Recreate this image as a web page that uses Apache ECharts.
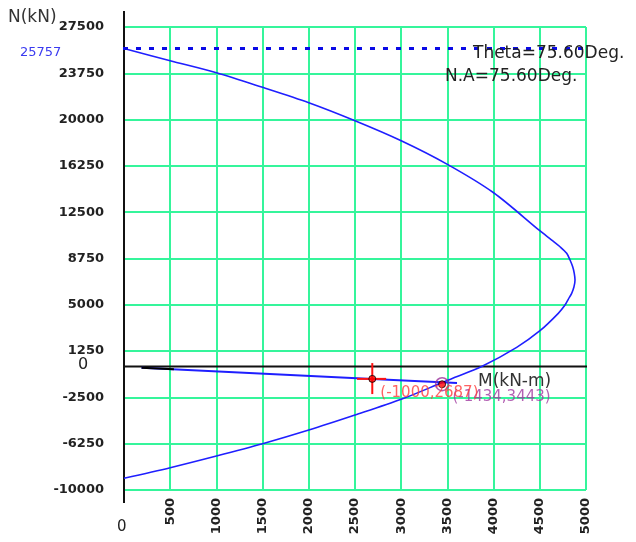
<!DOCTYPE html>
<html>
<head>
<meta charset="utf-8">
<script src="https://cdn.jsdelivr.net/npm/echarts@6/dist/echarts.min.js"></script>
<style>html,body{margin:0;padding:0;background:#fff;}#c{width:636px;height:542px;}</style>
</head>
<body>
<div id="c"></div>
<script>
// Interaction diagram (M, N)
const curveM = [0, 500, 1000, 1500, 2000, 2500, 3000, 3500, 4000, 4500, 4629, 4719, 4791, 4827, 4856, 4873, 4881, 4870, 4845, 4808, 4773, 4700, 4502, 4250, 3871, 3564, 3430, 3000, 2500, 2000, 1500, 1000, 500, 0];
const curveN = [25757, 24767, 23795, 22612, 21366, 19908, 18288, 16376, 14076, 10999, 10245, 9703, 9168, 8626, 8083, 7548, 7006, 6463, 5929, 5443, 4981, 4309, 2900, 1555, 0, -920, -1340, -2657, -3928, -5143, -6250, -7249, -8196, -9055];
// load path line
const pathM = [190, 2687, 3604];
const pathN = [-90, -1000, -1334];
const pathStartM = [190, 540];
const pathStartN = [-90, -218];
// points
const redPoint = [2687, -1000];
const redLabel = '(-1000,2687)';
const purplePoint = [3443, -1434];
const purpleLabel = '(-1434,3443)';
const pureCompression = 25757;
const pureCompressionLabel = '25757';
// axes
const xMin = 0, xMax = 5000, xStep = 500;
const yMin = -10000, yMax = 27500, yStep = 3750;
const yAxisTitle = 'N(kN)';
const xAxisTitle = 'M(kN-m)';
const zeroLabel = '0';
const thetaText = 'Theta=75.60Deg.';
const naText = 'N.A=75.60Deg.';

const FONT = 'DejaVu Sans';
const chart = echarts.init(document.getElementById('c'), null, {renderer: 'canvas'});

const zip = (a, b) => a.map((v, i) => [v, b[i]]);
const GREEN = '#35f59b';

const option = {
  animation: false,
  backgroundColor: '#ffffff',
  grid: {left: 124, right: 50, top: 27, bottom: 52, containLabel: false},
  xAxis: {
    type: 'value', min: xMin, max: xMax, interval: xStep,
    axisLine: {show: false}, axisTick: {show: false},
    splitLine: {show: true, showMinLine: true, showMaxLine: true, lineStyle: {color: GREEN, width: 2}},
    axisLabel: {
      rotate: 90, margin: 8, color: '#222', fontFamily: FONT, fontSize: 13, fontWeight: 'bold',
      formatter: v => (v === 0 ? '' : String(v))
    }
  },
  yAxis: {
    type: 'value', min: yMin, max: yMax, interval: yStep,
    axisLine: {show: false}, axisTick: {show: false},
    splitLine: {show: true, showMinLine: true, showMaxLine: true, lineStyle: {color: GREEN, width: 2}},
    axisLabel: {margin: 20, color: '#222', fontFamily: FONT, fontSize: 13, fontWeight: 'bold',
      formatter: v => String(v)}
  },
  series: [
    {
      type: 'line', name: 'axisH', data: [[-184, 0], [5162, 0]], clip: false, silent: true,
      symbol: 'none', lineStyle: {color: '#111', width: 2}, z: 3
    },
    {
      type: 'line', name: 'axisV', data: [[0, 28792], [0, -11055]], clip: false, silent: true,
      symbol: 'none', lineStyle: {color: '#111', width: 2}, z: 3
    },
    {
      type: 'line', name: 'curve', data: zip(curveM, curveN), clip: false, silent: true,
      symbol: 'none', smooth: 0.3, lineStyle: {color: '#1f1fff', width: 1.6}, z: 4
    },
    {
      type: 'line', name: 'pureN', data: [[-433, pureCompression], [5152, pureCompression]], clip: false, silent: true,
      symbol: 'none', lineStyle: {color: '#0a0ae6', width: 3, type: [5, 8]}, z: 5
    },
    {
      type: 'line', name: 'path', data: zip(pathM, pathN), clip: false, silent: true,
      symbol: 'none', lineStyle: {color: '#1f1fff', width: 2}, z: 5
    },
    {
      type: 'line', name: 'pathStart', data: zip(pathStartM, pathStartN), clip: false, silent: true,
      symbol: 'none', lineStyle: {color: '#000', width: 2}, z: 6
    },
    {
      type: 'line', name: 'crossH', data: [[redPoint[0] - 165, redPoint[1]], [redPoint[0] + 150, redPoint[1]]], clip: false, silent: true,
      symbol: 'none', lineStyle: {color: '#ff1010', width: 2}, z: 7
    },
    {
      type: 'line', name: 'crossV', data: [[redPoint[0], redPoint[1] + 1280], [redPoint[0], redPoint[1] - 1230]], clip: false, silent: true,
      symbol: 'none', lineStyle: {color: '#ff1010', width: 2}, z: 7
    },
    {
      type: 'scatter', name: 'purpleRing', data: [purplePoint], clip: false, silent: true,
      symbol: 'circle', symbolSize: 13,
      itemStyle: {color: 'rgba(0,0,0,0)', borderColor: '#9a2f9a', borderWidth: 1.5},
      label: {show: true, position: 'right', distance: 3, offset: [0, 13], formatter: purpleLabel,
        color: '#a03aa0', fontFamily: FONT, fontSize: 15},
      z: 8
    },
    {
      type: 'scatter', name: 'points', data: [redPoint, purplePoint], clip: false, silent: true,
      symbol: 'circle', symbolSize: 7,
      itemStyle: {color: '#ff0000', borderColor: '#000', borderWidth: 1},
      label: {show: true, position: 'right', distance: 4, offset: [0, 14],
        formatter: p => (p.dataIndex === 0 ? redLabel : ''),
        color: '#ff3b3b', fontFamily: FONT, fontSize: 15},
      z: 9
    }
  ],
  graphic: [
    {type: 'text', left: 8, top: 9, z: 20, style: {text: yAxisTitle, fill: '#333', font: '17px "' + FONT + '"'}},
    {type: 'text', left: 20, top: 46, z: 20, style: {text: pureCompressionLabel, fill: '#3a3af0', font: '13px "' + FONT + '"'}},
    {type: 'text', left: 78, top: 357, z: 20, style: {text: zeroLabel, fill: '#222', font: '16px "' + FONT + '"'}},
    {type: 'text', left: 117, top: 520, z: 20, style: {text: zeroLabel, fill: '#222', font: '15px "' + FONT + '"'}},
    {type: 'text', left: 473, top: 45, z: 20, style: {text: thetaText, fill: '#222', font: '17px "' + FONT + '"'}},
    {type: 'text', left: 445, top: 68, z: 20, style: {text: naText, fill: '#222', font: '17px "' + FONT + '"'}},
    {type: 'text', left: 478, top: 373, z: 20, style: {text: xAxisTitle, fill: '#333', font: '17px "' + FONT + '"'}}
  ]
};
chart.setOption(option);
</script>
</body>
</html>
